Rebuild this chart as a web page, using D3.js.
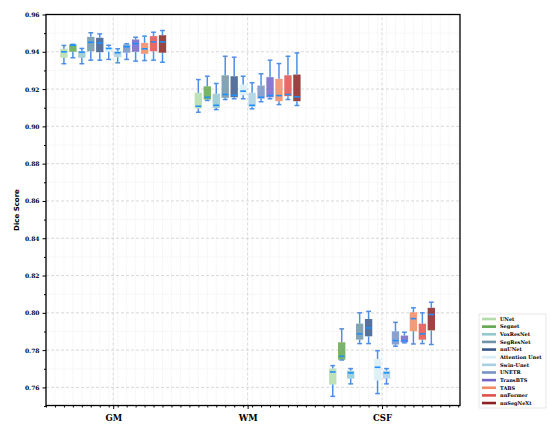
<!DOCTYPE html>
<html>
<head>
<meta charset="utf-8">
<script src="https://cdn.jsdelivr.net/npm/d3@7"></script>
<style>
  body { margin: 0; background: #fff; }
  svg { display: block; }
</style>
</head>
<body>
<svg id="chart" width="550" height="429"></svg>
<script>
// regions on the x axis
const regions = ['GM', 'WM', 'CSF'];
const models = ['UNet', 'Segnet', 'VoxResNet', 'SegResNet', 'nnUNet', 'Attention Unet',
  'Swin-Unet', 'UNETR', 'TransBTS', 'TABS', 'nnFormer', 'nnSegNeXt'];
const modelColors = ['#b3dcaa', '#62a84e', '#93c8cf', '#6f93a8', '#3a5a8c', '#d7eef6',
  '#a9d0e2', '#7792c6', '#7464c6', '#f28a62', '#e2504a', '#8c2222'];
const yTicks = [0.76, 0.78, 0.80, 0.82, 0.84, 0.86, 0.88, 0.90, 0.92, 0.94, 0.96];

// per region: one row per model -> [whiskerLow, q1, median, q3, whiskerHigh]
const gmStats = [
  [0.9336, 0.9368, 0.9400, 0.9416, 0.9434],
  [0.9368, 0.9400, 0.9435, 0.9440, 0.9440],
  [0.9336, 0.9368, 0.9398, 0.9403, 0.9418],
  [0.9355, 0.9403, 0.9451, 0.9480, 0.9502],
  [0.9355, 0.9398, 0.9448, 0.9475, 0.9496],
  [0.9359, 0.9400, 0.9418, 0.9425, 0.9435],
  [0.9341, 0.9371, 0.9395, 0.9403, 0.9416],
  [0.9359, 0.9395, 0.9427, 0.9439, 0.9443],
  [0.9350, 0.9400, 0.9444, 0.9466, 0.9478],
  [0.9353, 0.9389, 0.9416, 0.9448, 0.9484],
  [0.9355, 0.9403, 0.9453, 0.9484, 0.9505],
  [0.9344, 0.9395, 0.9453, 0.9489, 0.9514]
];
const wmStats = [
  [0.9076, 0.9096, 0.9108, 0.9180, 0.9251],
  [0.9139, 0.9144, 0.9156, 0.9215, 0.9269],
  [0.9090, 0.9099, 0.9113, 0.9175, 0.9230],
  [0.9144, 0.9153, 0.9171, 0.9274, 0.9376],
  [0.9148, 0.9156, 0.9167, 0.9269, 0.9371],
  [0.9148, 0.9167, 0.9189, 0.9224, 0.9269],
  [0.9094, 0.9105, 0.9113, 0.9180, 0.9234],
  [0.9132, 0.9149, 0.9156, 0.9219, 0.9282],
  [0.9148, 0.9156, 0.9165, 0.9264, 0.9355],
  [0.9117, 0.9135, 0.9165, 0.9255, 0.9337],
  [0.9144, 0.9162, 0.9171, 0.9274, 0.9376],
  [0.9112, 0.9135, 0.9158, 0.9278, 0.9394]
];
const csfStats = [
  [0.7552, 0.7615, 0.7683, 0.7701, 0.7717],
  [0.7747, 0.7749, 0.7767, 0.7842, 0.7914],
  [0.7619, 0.7647, 0.7678, 0.7690, 0.7701],
  [0.7835, 0.7856, 0.7887, 0.7942, 0.8000],
  [0.7835, 0.7874, 0.7919, 0.7967, 0.8008],
  [0.7567, 0.7637, 0.7708, 0.7753, 0.7797],
  [0.7619, 0.7647, 0.7678, 0.7690, 0.7701],
  [0.7821, 0.7830, 0.7851, 0.7901, 0.7949],
  [0.7839, 0.7842, 0.7851, 0.7878, 0.7896],
  [0.7833, 0.7901, 0.7969, 0.8003, 0.8027],
  [0.7835, 0.7856, 0.7887, 0.7942, 0.8000],
  [0.7830, 0.7906, 0.7991, 0.8027, 0.8057]
];
const allStats = [gmStats, wmStats, csfStats];

const width = 550, height = 429;
const margin = {top: 14.5, right: 90, bottom: 23.5, left: 46};

const x = d3.scaleLinear()
  .domain([-0.5, 2.58])
  .range([margin.left, width - margin.right]);
const y = d3.scaleLinear()
  .domain([0.7503, 0.96])
  .range([height - margin.bottom, margin.top]);

const slot = 0.8 / models.length;
const boxW = (x(slot) - x(0)) * 0.82;
const capW = boxW * 0.65;

const svg = d3.select('#chart');

// minor grid
const xMinor = d3.range(-8, 39).map(k => (k + 0.5) / 15).filter(v => v >= -0.5 && v <= 2.58);
const yMinor = d3.range(75, 96, 1).map(v => v / 100).filter(v => Math.round(v * 100) % 2 === 1);
const grid = svg.append('g');
grid.selectAll('line.xm').data(xMinor).enter().append('line')
  .attr('x1', d => x(d)).attr('x2', d => x(d))
  .attr('y1', y.range()[0]).attr('y2', y.range()[1])
  .attr('stroke', '#e4e4e4').attr('stroke-width', 0.6).attr('stroke-dasharray', '1,1.2');
grid.selectAll('line.ym').data(yMinor).enter().append('line')
  .attr('x1', x.range()[0]).attr('x2', x.range()[1])
  .attr('y1', d => y(d)).attr('y2', d => y(d))
  .attr('stroke', '#e4e4e4').attr('stroke-width', 0.6).attr('stroke-dasharray', '1,1.2');
// major grid
grid.selectAll('line.xM').data([0, 1, 2]).enter().append('line')
  .attr('x1', d => x(d)).attr('x2', d => x(d))
  .attr('y1', y.range()[0]).attr('y2', y.range()[1])
  .attr('stroke', '#cfcfcf').attr('stroke-width', 0.8).attr('stroke-dasharray', '3,2');
grid.selectAll('line.yM').data(yTicks).enter().append('line')
  .attr('x1', x.range()[0]).attr('x2', x.range()[1])
  .attr('y1', d => y(d)).attr('y2', d => y(d))
  .attr('stroke', '#cfcfcf').attr('stroke-width', 0.8).attr('stroke-dasharray', '3,2');

// boxes
const flat = [];
allStats.forEach((rows, r) => rows.forEach((s, m) => {
  flat.push({r: r, m: m, s: s, cx: x(r + (m - (models.length - 1) / 2) * slot)});
}));

const boxes = svg.append('g').selectAll('g').data(flat).enter().append('g');
boxes.append('rect')
  .attr('x', d => d.cx - boxW / 2)
  .attr('width', boxW)
  .attr('y', d => y(d.s[3]))
  .attr('height', d => Math.max(0.8, y(d.s[1]) - y(d.s[3])))
  .attr('fill', d => modelColors[d.m])
  .attr('fill-opacity', 0.85);
boxes.append('line')
  .attr('x1', d => d.cx).attr('x2', d => d.cx)
  .attr('y1', d => y(d.s[3])).attr('y2', d => y(d.s[4]))
  .attr('stroke', '#4d8fe6').attr('stroke-width', 1.5);
boxes.append('line')
  .attr('x1', d => d.cx).attr('x2', d => d.cx)
  .attr('y1', d => y(d.s[1])).attr('y2', d => y(d.s[0]))
  .attr('stroke', '#4d8fe6').attr('stroke-width', 1.5);
[0, 4].forEach(k => {
  boxes.append('line')
    .attr('x1', d => d.cx - capW / 2).attr('x2', d => d.cx + capW / 2)
    .attr('y1', d => y(d.s[k])).attr('y2', d => y(d.s[k]))
    .attr('stroke', '#4d8fe6').attr('stroke-width', 1.5);
});
boxes.append('line')
  .attr('x1', d => d.cx - boxW / 2 + 0.8).attr('x2', d => d.cx + boxW / 2 - 0.8)
  .attr('y1', d => y(d.s[2])).attr('y2', d => y(d.s[2]))
  .attr('stroke', '#1e90ff').attr('stroke-width', 1.6);

// axes
const xAxis = svg.append('g')
  .attr('transform', `translate(0,${y.range()[0]})`)
  .call(d3.axisBottom(x).tickValues([0, 1, 2]).tickFormat(i => regions[i]).tickSize(3.5));
svg.append('g')
  .attr('transform', `translate(0,${y.range()[0]})`)
  .call(d3.axisBottom(x).tickValues(xMinor).tickFormat('').tickSize(2))
  .call(g => g.select('.domain').remove());
const yAxis = svg.append('g')
  .attr('transform', `translate(${x.range()[0]},0)`)
  .call(d3.axisLeft(y).tickValues(yTicks).tickFormat(d3.format('.2f')).tickSize(3.5));
svg.append('g')
  .attr('transform', `translate(${x.range()[0]},0)`)
  .call(d3.axisLeft(y).tickValues(yMinor).tickFormat('').tickSize(2))
  .call(g => g.select('.domain').remove());

xAxis.selectAll('text')
  .attr('font-family', 'DejaVu Serif').attr('font-weight', 'bold').attr('font-size', 8.5)
  .attr('dy', '1.1em');
yAxis.selectAll('text')
  .attr('font-family', 'DejaVu Serif').attr('font-weight', 'bold').attr('font-size', 6);
svg.selectAll('.domain').remove();

// frame
svg.append('rect')
  .attr('x', x.range()[0]).attr('y', y.range()[1])
  .attr('width', x.range()[1] - x.range()[0])
  .attr('height', y.range()[0] - y.range()[1])
  .attr('fill', 'none').attr('stroke', '#000').attr('stroke-width', 1.3);

svg.append('text')
  .attr('transform', `translate(19,${(y.range()[0] + y.range()[1]) / 2}) rotate(-90)`)
  .attr('text-anchor', 'middle')
  .attr('font-family', 'DejaVu Sans').attr('font-weight', 'bold').attr('font-size', 7)
  .text('Dice Score');

// legend
const lg = svg.append('g').attr('transform', 'translate(479,314)');
lg.append('rect')
  .attr('width', 67).attr('height', 94)
  .attr('fill', '#fff').attr('stroke', '#d8d8d8').attr('stroke-width', 0.6);
const item = lg.selectAll('g.item').data(models).enter().append('g')
  .attr('transform', (d, i) => `translate(3,${5 + i * 7.64})`);
item.append('rect')
  .attr('y', -1.3).attr('width', 14).attr('height', 2.6)
  .attr('fill', (d, i) => modelColors[i]);
item.append('text')
  .attr('x', 18).attr('dy', '0.35em')
  .attr('font-family', 'DejaVu Serif').attr('font-weight', 'bold').attr('font-size', 5)
  .text(d => d);
</script>
</body>
</html>
